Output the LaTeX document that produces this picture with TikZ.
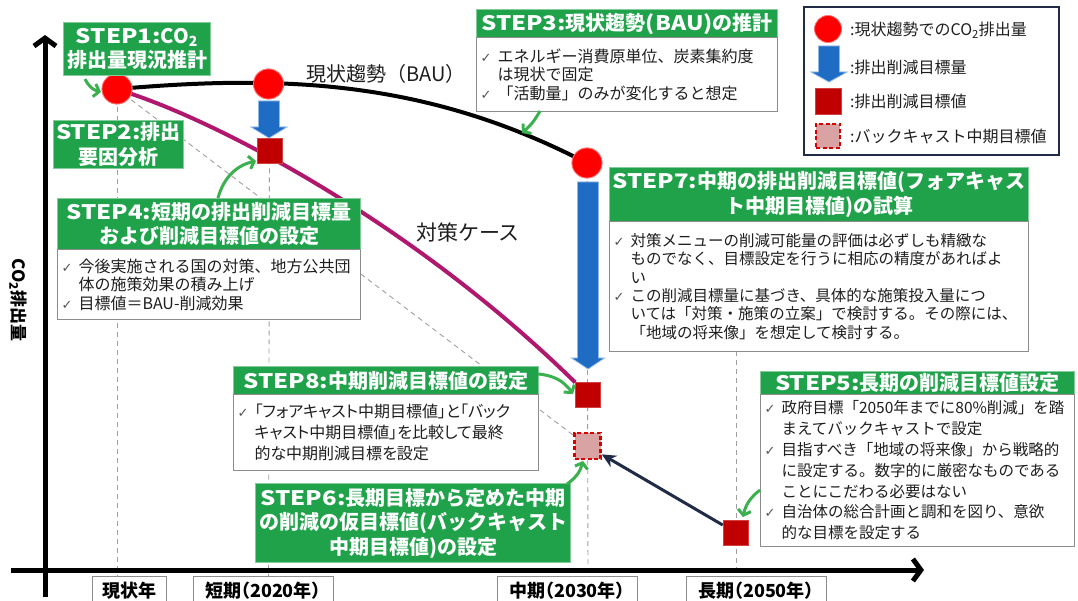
\documentclass[tikz,border=0pt]{standalone}
\usepackage{fontspec}
\usepackage{graphicx}
\setmainfont{Noto Sans CJK JP}
\newfontfamily\pjp{Noto Sans CJK JP}[RawFeature=+palt]
\newfontfamily\hv{Noto Sans CJK JP Black}
\newfontfamily\sym{DejaVu Sans}
\usetikzlibrary{arrows.meta}
\definecolor{hgreen}{HTML}{1FA24A}
\definecolor{agreen}{HTML}{3BB04E}
\definecolor{bblue}{HTML}{1F6CC4}
\definecolor{bedge}{HTML}{8DB8E8}
\definecolor{sqred}{HTML}{C00000}
\definecolor{cred}{HTML}{FF0000}
\definecolor{dsqfill}{HTML}{D9A3A3}
\definecolor{mag}{HTML}{B0186E}
\definecolor{navy}{HTML}{1F2B47}
\definecolor{txt}{HTML}{1E1E1E}
\definecolor{bord}{HTML}{8C8C8C}
\definecolor{ckc}{HTML}{555555}
\newcommand\stp[1]{\scalebox{1.2}[1]{STEP#1:}}
\newcommand\ck{\makebox[17pt][l]{\textcolor{ckc}{\sym\fontsize{13}{13}\selectfont ✓}}}
\newcommand\ind{\hspace*{17pt}}
\newcommand\bluearr[5]{% x, ytop, ytip, headlen, headhalf
  \filldraw[fill=bblue, draw=bedge, line width=0.8pt]
    (#1-10.5,#2) -- (#1+10.5,#2) -- (#1+10.5,#3-#4) -- (#1+#5,#3-#4) -- (#1,#3)
    -- (#1-#5,#3-#4) -- (#1-10.5,#3-#4) -- cycle;}
\tikzset{
  hdr/.style={fill=hgreen, draw=hgreen!55!white, line width=1pt, text=white,
    font=\hv\fontsize{20}{24.5}\selectfont, align=center, inner sep=0pt, anchor=north west},
  body/.style={fill=white, draw=bord, line width=1pt, text=txt,
    font=\fontsize{16}{18.5}\selectfont, align=left, inner xsep=4pt, inner ysep=0pt, anchor=north west},
  redc/.style={circle, fill=cred, draw=cred!55!white, line width=0.8pt, minimum size=30pt, inner sep=0pt},
  sq/.style={rectangle, fill=sqred, draw=sqred!75!white, line width=0.6pt, minimum size=25pt, inner sep=0pt},
  dsq/.style={rectangle, fill=dsqfill, draw=red!85!black, line width=2.6pt, dash pattern=on 4pt off 2.5pt, minimum size=26pt, inner sep=0pt},
  dsh/.style={draw=gray!75, line width=0.9pt, dash pattern=on 5pt off 4pt},
  garr/.style={draw=agreen, line width=3pt, -{Straight Barb[length=5pt,width=13pt]}},
  axis/.style={line width=5pt, -{Straight Barb[length=8pt,width=22pt]}},
  axl/.style={draw=bord, line width=1pt, fill=white, text=black, font=\pjp\fontsize{18}{18}\selectfont\bfseries,
    anchor=north, minimum height=28pt, inner sep=0pt},
  lgt/.style={anchor=west, text=txt, font=\fontsize{16}{16}\selectfont, inner sep=0pt}
}
\begin{document}
\begin{tikzpicture}[x=1pt,y=-1pt]
\fill[white] (0,0) rectangle (1078,601);
\useasboundingbox (0,0) rectangle (1078,601);

% markers (positions)
\node[redc] (c1) at (117,89) {};
\node[redc] (c2) at (268.5,84) {};
\node[redc] (c3) at (587,163) {};
\node[sq] (q1) at (269.5,150.5) {};
\node[sq] (q2) at (588,395) {};
\node[sq] (q3) at (735.5,532.5) {};
\node[dsq] (qd) at (587.5,446) {};

\coordinate (t0) at (117,576);
\coordinate (t1) at (268.5,576);
\coordinate (t2) at (588,576);
\coordinate (t3) at (736,576);
\coordinate (t3top) at (736,351);

% dashed guides
\draw[dsh] (c1.center) -- (t0);
\draw[dsh] (q1.center) -- (t1);
\draw[dsh] (c3.center) -- (t2);
\draw[dsh] (t3top) -- (t3);
\draw[dsh] (c1.center) -- (qd.center);

% curves
\draw[line width=4pt] (c1) .. controls (280,76) and (420,80) .. (c3);
\draw[mag, line width=4pt] (c1) .. controls (232,128) and (420,230) .. (q2);

% redraw markers on top
\node[redc] at (c1) {};
\node[redc] at (c2) {};
\node[redc] at (c3) {};

% blue arrows
\bluearr{269}{101}{138}{11}{18}
\bluearr{588}{182}{369}{11}{16.5}

\node[sq] at (q1) {};
\node[sq] at (q2) {};
\node[sq] at (q3) {};
\node[dsq] at (qd) {};

% labels on curves
\node[text=txt, font=\fontsize{20}{20}\selectfont] (bau) at (386,74) {現状趨勢（BAU）};
\node[text=txt, font=\fontsize{21}{21}\selectfont] (tc) at (468,232) {対策ケース};

% STEP1, STEP2
\node[hdr, minimum width=147pt, minimum height=53pt] (s1) at (63,22) {\stp{1}CO\textsubscript{2}\\排出量現況推計};
\node[hdr, minimum width=130pt, minimum height=48pt] (s2) at (53,120) {\stp{2}排出\\要因分析};

% STEP3
\node[hdr, minimum width=301pt, minimum height=28pt] (s3h) at (476,9) {\stp{3}現状趨勢\scalebox{1.15}[1]{(BAU)}の推計};
\node[body, minimum height=74pt, text width=293pt] (s3b) at (476,37) {\ck エネルギー消費原単位、炭素集約度\\\ind は現状で固定\\\ck「活動量」のみが変化すると想定};

% STEP4
\node[hdr, minimum width=303pt, minimum height=51pt] (s4h) at (57,198) {\stp{4}短期の排出削減目標量\\および削減目標値の設定};
\node[body, minimum height=70pt, text width=295pt] (s4b) at (57,249) {\ck 今後実施される国の対策、地方公共団\\\ind 体の施策効果の積み上げ\\\ck 目標値＝BAU-削減効果};

% STEP7
\node[hdr, minimum width=419pt, minimum height=54pt] (s7h) at (609,167) {\stp{7}中期の排出削減目標値(フォアキャス\\ト中期目標値)の試算};
\node[body, font=\fontsize{15.5}{18.3}\selectfont, minimum height=130pt, text width=411pt] (s7b) at (609,221) {\ck 対策メニューの削減可能量の評価は必ずしも精緻な\\\ind ものでなく、目標設定を行うに相応の精度があればよ\\\ind い\\\ck この削減目標量に基づき、具体的な施策投入量につ\\\ind いては「対策・施策の立案」で検討する。その際には、\\\ind 「地域の将来像」を想定して検討する。};

% STEP8
\node[hdr, minimum width=305pt, minimum height=28pt] (s8h) at (233,366) {\stp{8}中期削減目標値の設定};
\node[body, font=\pjp\fontsize{16}{21}\selectfont, minimum height=76pt, text width=297pt] (s8b) at (233,394) {\ck「フォアキャスト中期目標値」と「バック\\\ind キャスト中期目標値」を比較して最終\\\ind 的な中期削減目標を設定};

% STEP5
\node[hdr, minimum width=314pt, minimum height=23pt] (s5h) at (760,371) {\stp{5}長期の削減目標値設定};
\node[body, font=\fontsize{15.5}{20.8}\selectfont, minimum height=152pt, text width=306pt] (s5b) at (760,394) {\ck 政府目標「2050年までに80\%削減」を踏\\\ind まえてバックキャストで設定\\\ck 目指すべき「地域の将来像」から戦略的\\\ind に設定する。数字的に厳密なものである\\\ind ことにこだわる必要はない\\\ck 自治体の総合計画と調和を図り、意欲\\\ind 的な目標を設定する};

% STEP6
\node[hdr, minimum width=315pt, minimum height=79pt] (s6) at (255,483) {\stp{6}長期目標から定めた中期\\の削減の仮目標値(バックキャスト\\中期目標値)の設定};

% green pointer arrows
\draw[garr] (85,79) to[bend right=25] (101,92);
\draw[garr] (218,198) .. controls (224,176) and (238,165) .. (256,161);
\draw[garr] (540,111) to[bend left=10] (522,133);
\draw[garr] (538,374) to[bend left=25] (573,394);
\draw[garr] (567,484) to[bend right=20] (583,461);
\draw[garr] (760,490) to[bend right=20] (743,517);

% backcast arrow
\draw[navy, line width=3pt, -{Stealth[length=14pt,width=13pt]}] (q3) -- (qd);

% legend
\node[draw=navy, line width=2pt, minimum width=255pt, minimum height=148pt, anchor=north west, inner sep=0pt] (leg) at (803,6) {};
\node[redc, minimum size=27pt] (lc) at (828,29) {};
\bluearr{829}{46}{82}{10}{18}
\node[sq, minimum size=26pt] (lq) at (828,101) {};
\node[dsq, minimum size=24pt] (ld) at (828,136) {};
\node[lgt] (l1) at (850,30) {:現状趨勢でのCO\textsubscript{2}排出量};
\node[lgt] (l2) at (850,67) {:排出削減目標量};
\node[lgt] (l3) at (850,101) {:排出削減目標値};
\node[lgt] (l4) at (850,137) {:バックキャスト中期目標値};

% axes
\coordinate (yb) at (45,597);
\coordinate (yt) at (45,35);
\coordinate (xl) at (11,570);
\coordinate (xr) at (924,570);
\draw[axis] (yb) -- (yt);
\draw[axis] (xl) -- (xr);

% axis labels
\node[axl, minimum width=74pt] (a0) at (129,576) {現状年};
\node[axl, minimum width=140pt] (a1) at (263,576) {短期（2020年）};
\node[axl, minimum width=140pt] (a2) at (567,576) {中期（2030年）};
\node[axl, minimum width=140pt] (a3) at (756,576) {長期（2050年）};
\node[rotate=-90, text=black, font=\fontsize{17}{17}\selectfont\bfseries] (ylab) at (18,300) {CO\textsubscript{2}排出量};
\end{tikzpicture}
\end{document}
